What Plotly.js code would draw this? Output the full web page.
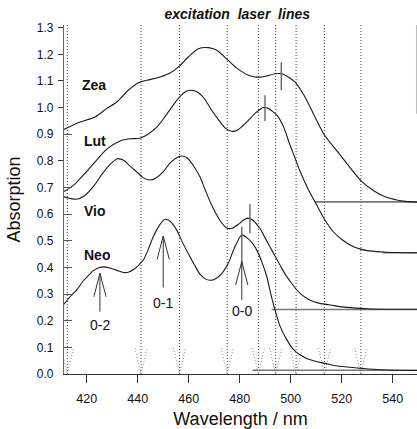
<!DOCTYPE html>
<html><head><meta charset="utf-8">
<script src="https://cdn.plot.ly/plotly-3.0.1.min.js"></script>
<style>html,body{margin:0;padding:0;background:#fff}#plot{width:417px;height:429px}</style>
</head><body><div id="plot"></div>
<script>
// ---- data ----
const zeaNm  = [411.1,417.4,423.3,427.8,431.8,436.3,440.9,444.8,448.7,452.7,455.9,459.8,463.8,467.7,471,475.5,479,483.4,486,488.6,491,493.8,496.5,499,501.7,505,509.5,513,517.4,522,528,533,537,541.6,545,549.5];
const zeaAbs = [0.918,0.946,0.965,0.996,1.021,1.065,1.096,1.105,1.115,1.13,1.152,1.19,1.221,1.225,1.215,1.177,1.147,1.121,1.115,1.115,1.12,1.127,1.127,1.115,1.096,1.05,0.965,0.9,0.846,0.79,0.721,0.685,0.665,0.653,0.648,0.645];

const lutNm  = [411.1,415,419,423.9,428,433.1,437,440.9,444,447.5,451,455.3,458,460.5,463,466,469,472,474.5,476.9,479,481,483.4,486,489.3,491,493,495.1,497.5,499.5,501.3,503.7,506.5,509.5,513.4,516.7,520,524.6,530,536.3,542,549.5];
const lutAbs = [0.685,0.71,0.75,0.803,0.845,0.875,0.883,0.885,0.9,0.927,0.97,1.027,1.055,1.065,1.06,1.035,0.99,0.95,0.922,0.911,0.915,0.93,0.952,0.978,1.0,0.998,0.985,0.965,0.92,0.865,0.82,0.76,0.7,0.646,0.578,0.534,0.505,0.478,0.463,0.458,0.456,0.455];

const vioNm  = [411.1,413.5,416,419,422.6,426,429,432,434.5,437,439.6,442,444.8,447,450,453,456,457.5,459.5,462,464.4,466.5,469,472,474.9,477,479.5,481.5,483.2,485,488,490,492,494,496,498,500,502,504,507,511,516.7,522,530,540,549.5];
const vioAbs = [0.665,0.659,0.656,0.668,0.703,0.75,0.785,0.808,0.802,0.78,0.759,0.738,0.728,0.735,0.759,0.795,0.815,0.818,0.81,0.78,0.74,0.69,0.634,0.58,0.548,0.547,0.562,0.578,0.585,0.578,0.545,0.51,0.475,0.44,0.405,0.372,0.345,0.32,0.3,0.28,0.266,0.257,0.25,0.245,0.243,0.243];

const neoNm  = [411.1,413.5,416.1,418.7,421,422.6,425,427,429.5,431.8,434.5,436.3,438.5,440.5,442.2,444,446.1,448.3,450.5,452,453.5,455.3,457.5,460.5,462.5,464.4,466.5,468.4,470,472.3,475.5,478,480.8,483,485,486.7,488.7,490.6,492.2,493.8,496,498.5,501,503.6,507,510,513.4,517,522,527.8,535,549.5];
const neoAbs = [0.262,0.29,0.316,0.35,0.373,0.388,0.4,0.402,0.397,0.389,0.381,0.382,0.393,0.41,0.428,0.465,0.515,0.555,0.58,0.578,0.565,0.54,0.495,0.44,0.405,0.375,0.357,0.352,0.355,0.37,0.416,0.475,0.522,0.51,0.49,0.465,0.42,0.366,0.3,0.241,0.175,0.128,0.092,0.072,0.055,0.047,0.04,0.032,0.026,0.021,0.016,0.013];

const pigmentNames = ['Zea','Lut','Vio','Neo'];
const labelNm  = [417.3,418.3,418.1,418.1];
const labelAbs = [1.083,0.874,0.613,0.448];

// excitation laser lines (nm)
const laserLines = [412.4,441.3,456.4,475.1,487.3,494.1,502.1,513.2,527.5];

// 0-0 band markers (short vertical bars)
const markNm = [496.3,489.9,484.0,480.8];
const markLo = [1.065,0.95,0.528,0.409];
const markHi = [1.17,1.046,0.638,0.553];

// baselines (horizontal)
const baseStart = [509.5,536.0,492.5,485.0];
const baseLevel = [0.646,0.455,0.242,0.014];

// vibronic band arrows for Neo
const bandNames  = ['0-2','0-1','0-0'];
const bandNm     = [425.2,450.0,480.8];
const bandTip    = [0.378,0.518,0.422];
const bandTail   = [0.234,0.325,0.278];
const bandLabelY = [0.185,0.268,0.237];

const xTicks = [420,440,460,480,500,520,540];
const yTicks = [0,0.1,0.2,0.3,0.4,0.5,0.6,0.7,0.8,0.9,1.0,1.1,1.2,1.3];
const yTicksOut = [0.8,1.0,1.1,1.2,1.3];
const yTicksIn  = [0,0.1,0.2,0.3,0.4,0.5,0.6,0.7,0.9];

// ---- build ----
const X0 = 411.1, X1 = 549.5, YTOP = 1.31;
const FONT = 'Liberation Sans, Arial, Helvetica, sans-serif';
const traces = [];

// laser lines (dotted verticals) and their dotted down-arrows
const lx = [], ly = [], ax = [], ay = [];
laserLines.forEach(l => {
  lx.push(l, l, null); ly.push(0, YTOP, null);
  ax.push(l - 2.4, l, l + 2.4, null); ay.push(0.097, 0.0, 0.097, null);
});
traces.push({x: lx, y: ly, mode: 'lines', line: {color: '#444', width: 1, dash: '1px,2px'}, hoverinfo: 'skip', showlegend: false});
traces.push({x: ax, y: ay, mode: 'lines', line: {color: '#888', width: 1, dash: '1px,2px'}, hoverinfo: 'skip', showlegend: false});

// baselines
const bx = [], by = [];
baseStart.forEach((s, i) => { bx.push(s, X1, null); by.push(baseLevel[i], baseLevel[i], null); });
traces.push({x: bx, y: by, mode: 'lines', line: {color: '#777', width: 1.6}, hoverinfo: 'skip', showlegend: false});

// spectra
[[zeaNm, zeaAbs], [lutNm, lutAbs], [vioNm, vioAbs], [neoNm, neoAbs]].forEach((d, i) => {
  traces.push({x: d[0], y: d[1], name: pigmentNames[i], mode: 'lines',
    line: {color: '#1a1a1a', width: 1.1, shape: 'spline', smoothing: 0.8}, showlegend: false});
});

// marker bars
const mx = [], my = [];
markNm.forEach((m, i) => { mx.push(m, m, null); my.push(markLo[i], markHi[i], null); });
traces.push({x: mx, y: my, mode: 'lines', line: {color: '#666', width: 1.4}, hoverinfo: 'skip', showlegend: false});

// band arrows (open heads)
const arx = [], ary = [];
bandNm.forEach((b, i) => {
  const t = bandTip[i], h = 0.088;
  arx.push(b, b, null, b - 2.4, b, b + 2.4, null);
  ary.push(bandTail[i], t, null, t - h, t, t - h, null);
});
traces.push({x: arx, y: ary, mode: 'lines', line: {color: '#333', width: 1}, hoverinfo: 'skip', showlegend: false});

// dummy traces so the tick-only axes are drawn
traces.push({x: [], y: [], yaxis: 'y2', hoverinfo: 'skip', showlegend: false});
traces.push({x: [], y: [], yaxis: 'y3', hoverinfo: 'skip', showlegend: false});

const annotations = [];
pigmentNames.forEach((n, i) => annotations.push({x: labelNm[i], y: labelAbs[i], xref: 'x', yref: 'y', text: '<b>' + n + '</b>',
  showarrow: false, xanchor: 'left', yanchor: 'middle', font: {family: FONT, size: 14, color: '#111'}}));
bandNames.forEach((n, i) => annotations.push({x: bandNm[i], y: bandLabelY[i], xref: 'x', yref: 'y', text: n,
  showarrow: false, xanchor: 'center', yanchor: 'middle', font: {family: FONT, size: 14, color: '#111'}}));

const layout = {
  width: 417, height: 429,
  margin: {l: 64, r: 0, t: 25, b: 55},
  paper_bgcolor: '#fff', plot_bgcolor: '#fff',
  font: {family: FONT, color: '#111'},
  title: {text: '<b><i>excitation \u00a0laser \u00a0lines</i></b>', font: {family: FONT, size: 14, color: '#111'},
    xref: 'container', yref: 'container', x: 0.569, xanchor: 'center', y: 0.968, yanchor: 'middle'},
  xaxis: {range: [X0, X1], tickvals: xTicks, ticks: 'outside', ticklen: 8, tickcolor: '#333',
    showline: true, linecolor: '#333', linewidth: 1, showgrid: false, zeroline: false,
    tickfont: {family: FONT, size: 12.5, color: '#111'}, ticklabelstandoff: 5,
    title: {text: 'Wavelength / nm', font: {family: FONT, size: 18, color: '#111'}, standoff: 16}},
  yaxis: {range: [0, YTOP], tickvals: yTicks, tickformat: '.1f', ticks: '',
    showline: true, linecolor: '#666', linewidth: 1.2, showgrid: false, zeroline: false,
    tickfont: {family: FONT, size: 12, color: '#111'}, ticklabelstandoff: 7,
    title: {text: 'Absorption', font: {family: FONT, size: 18, color: '#111'}, standoff: 11}},
  yaxis2: {range: [0, YTOP], overlaying: 'y', side: 'left', tickvals: yTicksOut, ticks: 'outside', ticklen: 5,
    tickcolor: '#333', showticklabels: false, showline: false, showgrid: false, zeroline: false},
  yaxis3: {range: [0, YTOP], overlaying: 'y', side: 'left', tickvals: yTicksIn, ticks: 'inside', ticklen: 8,
    tickcolor: '#555', showticklabels: false, showline: false, showgrid: false, zeroline: false},
  shapes: [{type: 'line', xref: 'paper', yref: 'y', x0: 0.9985, x1: 0.9985, y0: YTOP, y1: 0.977,
    line: {color: '#bbb', width: 1}}],
  annotations: annotations,
  showlegend: false
};

Plotly.newPlot('plot', traces, layout, {displayModeBar: false, staticPlot: true});
</script>
</body></html>
